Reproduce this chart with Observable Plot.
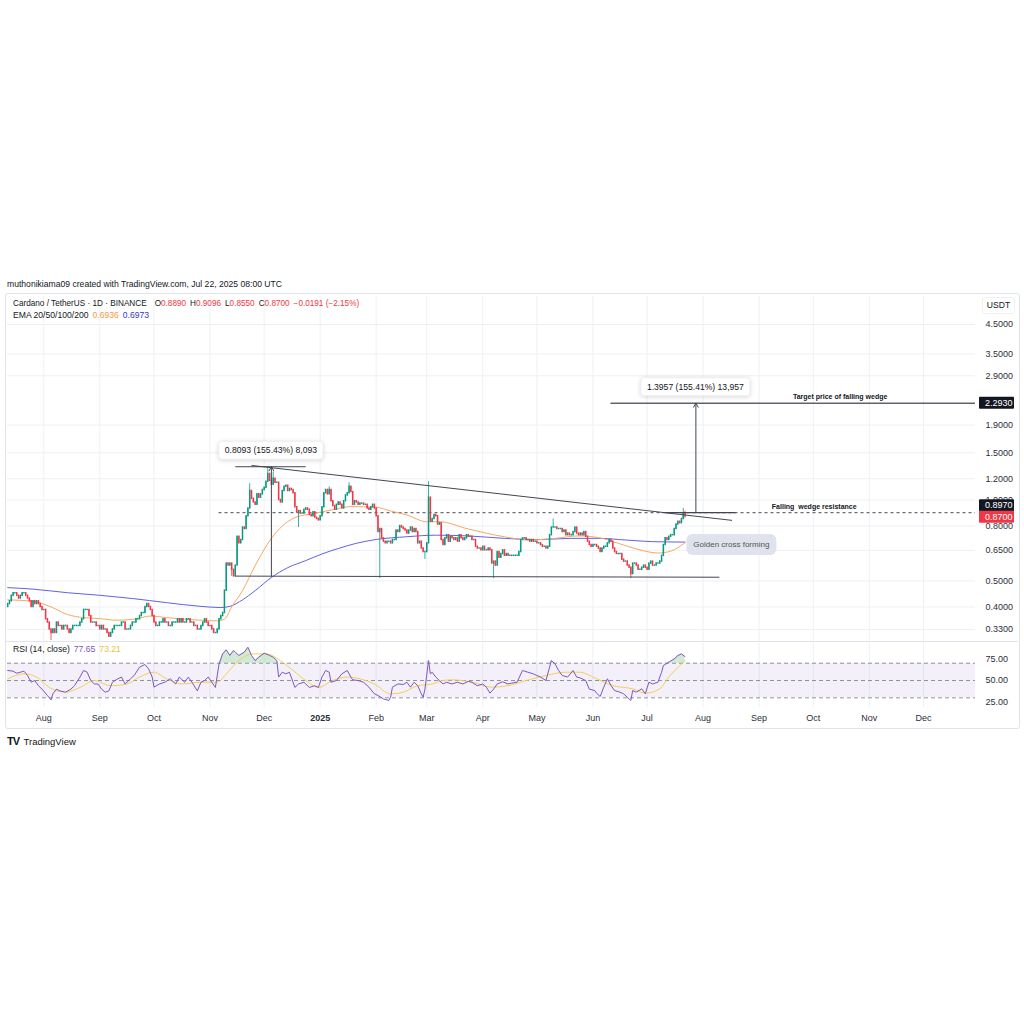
<!DOCTYPE html>
<html>
<head>
<meta charset="utf-8">
<script src="https://cdn.jsdelivr.net/npm/d3@7"></script>
<script src="https://cdn.jsdelivr.net/npm/@observablehq/plot@0.6"></script>
<style>
  html,body{margin:0;padding:0;background:#fff;}
  #root{position:relative;width:1024px;height:1024px;overflow:hidden;font-family:"Liberation Sans",Arial,sans-serif;color:#131722;}
  .abs{position:absolute;white-space:nowrap;}
  .pane{position:absolute;left:0;}
  .pane svg{overflow:visible;display:block;}
  .g{margin-left:4px;}
</style>
</head>
<body>
<div id="root"></div>
<script>
// ---------------- DATA ----------------
const creditText = "muthonikiama09 created with TradingView.com, Jul 22, 2025 08:00 UTC";
const symbolText = "Cardano / TetherUS · 1D · BINANCE";
const ohlcLabels = ["O", "H", "L", "C"];
const ohlcValues = ["0.8890", "0.9096", "0.8550", "0.8700"];
const changeText = "−0.0191 (−2.15%)";
const emaLabel = "EMA 20/50/100/200";
const emaValues = ["0.6936", "0.6973"];
const rsiLabel = "RSI (14, close)";
const rsiValues = ["77.65", "73.21"];
const currencyLabel = "USDT";

const firstDate = "2024-07-12";
const firstOpen = 0.40;
const closesJul2024 = [0.41,0.42,0.44,0.45,0.45,0.44,0.43,0.44,0.45,0.45,0.44,0.43,0.42,0.40,0.42,0.41,0.42,0.41,0.40,0.39];
const closesAug2024 = [0.39,0.36,0.35,0.33,0.32,0.33,0.32,0.35,0.34,0.34,0.33,0.34,0.34,0.33,0.32,0.33,0.34,0.34,0.34,0.34,0.35,0.36,0.39,0.39,0.39,0.37,0.35,0.35,0.35,0.34,0.34];
const closesSep2024 = [0.33,0.34,0.33,0.33,0.32,0.31,0.32,0.33,0.34,0.34,0.34,0.34,0.35,0.35,0.33,0.33,0.33,0.34,0.35,0.35,0.36,0.36,0.37,0.38,0.38,0.40,0.41,0.40,0.39,0.37];
const closesOct2024 = [0.35,0.34,0.34,0.35,0.35,0.36,0.35,0.35,0.34,0.34,0.35,0.35,0.35,0.36,0.35,0.36,0.35,0.35,0.36,0.36,0.35,0.35,0.34,0.34,0.33,0.33,0.34,0.35,0.36,0.35,0.34];
const closesNov2024 = [0.34,0.33,0.32,0.32,0.33,0.36,0.37,0.38,0.46,0.58,0.57,0.58,0.55,0.52,0.57,0.73,0.69,0.71,0.79,0.78,0.87,0.93,1.08,1.01,0.98,0.96,1.05,1.02,1.05,1.09];
const closesDec2024 = [1.11,1.17,1.25,1.18,1.14,1.20,1.16,1.16,1.00,0.98,1.08,1.12,1.13,1.08,1.10,1.09,1.06,0.94,0.90,0.91,0.89,0.89,0.92,0.93,0.92,0.88,0.87,0.90,0.86,0.85,0.84];
const closesJan2025 = [0.87,0.94,1.06,1.09,1.05,1.09,0.99,0.95,0.92,0.96,0.98,0.96,0.93,0.99,1.04,1.06,1.12,1.07,0.96,0.99,0.98,0.96,0.97,0.97,0.96,0.96,0.93,0.92,0.94,0.96,0.93];
const closesFeb2025 = [0.87,0.76,0.78,0.72,0.70,0.69,0.70,0.70,0.69,0.71,0.71,0.77,0.76,0.80,0.79,0.78,0.77,0.75,0.77,0.79,0.76,0.78,0.76,0.69,0.70,0.66,0.64,0.64];
const closesMar2025 = [0.69,1.02,0.83,0.85,0.88,0.87,0.81,0.82,0.71,0.68,0.72,0.74,0.70,0.73,0.72,0.71,0.72,0.70,0.74,0.72,0.71,0.72,0.74,0.73,0.73,0.71,0.71,0.67,0.66,0.66,0.65];
const closesApr2025 = [0.67,0.65,0.65,0.66,0.65,0.58,0.59,0.57,0.64,0.61,0.63,0.65,0.62,0.63,0.62,0.62,0.62,0.62,0.62,0.62,0.64,0.71,0.72,0.72,0.71,0.71,0.70,0.71,0.70,0.70];
const closesMay2025 = [0.69,0.69,0.68,0.67,0.67,0.66,0.67,0.74,0.79,0.79,0.79,0.78,0.78,0.78,0.76,0.77,0.74,0.75,0.74,0.74,0.76,0.79,0.75,0.74,0.75,0.74,0.76,0.73,0.70,0.68,0.67];
const closesJun2025 = [0.68,0.68,0.67,0.66,0.64,0.66,0.67,0.67,0.69,0.71,0.70,0.66,0.64,0.63,0.63,0.63,0.60,0.59,0.59,0.57,0.56,0.53,0.58,0.58,0.57,0.55,0.55,0.56,0.57,0.56];
const closesJul2025 = [0.55,0.58,0.59,0.57,0.57,0.58,0.58,0.59,0.62,0.68,0.72,0.71,0.73,0.74,0.74,0.78,0.81,0.83,0.82,0.85,0.889,0.87];

const wickHighs = [["2024-11-23",1.15],["2024-12-03",1.33],["2024-12-06",1.27],["2025-01-06",1.12],["2025-01-17",1.16],["2025-03-02",1.17],["2025-05-10",0.85],["2025-07-21",0.93],["2025-07-22",0.9096]];
const wickLows = [["2024-08-05",0.30],["2024-11-13",0.52],["2024-12-20",0.79],["2025-02-03",0.51],["2025-02-28",0.60],["2025-04-07",0.51],["2025-06-22",0.51],["2025-07-22",0.855]];

const emaOrange = [["2024-07-12",0.425],["2024-07-26",0.42],["2024-08-05",0.40],["2024-08-14",0.375],["2024-08-23",0.365],["2024-09-01",0.362],["2024-09-10",0.357],["2024-09-20",0.36],["2024-09-29",0.37],["2024-10-08",0.365],["2024-10-18",0.36],["2024-10-27",0.357],["2024-11-05",0.355],["2024-11-09",0.36],["2024-11-13",0.40],["2024-11-19",0.46],["2024-11-26",0.57],["2024-12-05",0.72],["2024-12-11",0.80],["2024-12-18",0.86],["2024-12-28",0.89],["2025-01-08",0.92],["2025-01-18",0.945],["2025-02-01",0.94],["2025-02-09",0.91],["2025-02-18",0.88],["2025-03-01",0.83],["2025-03-08",0.83],["2025-03-24",0.78],["2025-04-13",0.73],["2025-04-27",0.71],["2025-05-11",0.72],["2025-05-24",0.735],["2025-06-04",0.725],["2025-06-15",0.69],["2025-06-26",0.655],["2025-07-07",0.635],["2025-07-14",0.645],["2025-07-22",0.6936]];
const emaBlue = [["2024-07-12",0.472],["2024-07-26",0.466],["2024-08-14",0.452],["2024-09-01",0.442],["2024-09-19",0.43],["2024-10-08",0.415],["2024-10-27",0.402],["2024-11-07",0.398],["2024-11-12",0.402],["2024-11-19",0.425],["2024-11-26",0.46],["2024-12-05",0.515],["2024-12-14",0.56],["2024-12-24",0.595],["2025-01-02",0.63],["2025-01-11",0.66],["2025-01-21",0.69],["2025-02-01",0.713],["2025-02-18",0.73],["2025-03-06",0.74],["2025-03-24",0.735],["2025-04-13",0.72],["2025-05-01",0.712],["2025-05-20",0.72],["2025-06-04",0.72],["2025-06-19",0.71],["2025-07-04",0.70],["2025-07-22",0.6973]];

const rsiSeries = [["2024-07-12",61.6],["2024-07-15",60.8],["2024-07-17",58.5],["2024-07-19",59.6],["2024-07-21",60.8],["2024-07-23",55.8],["2024-07-25",48],["2024-07-27",50],["2024-07-29",44],["2024-07-31",40],["2024-08-03",32.7],["2024-08-05",27.6],["2024-08-06",34.6],["2024-08-08",40],["2024-08-10",38],["2024-08-13",36.5],["2024-08-16",40],["2024-08-18",44],["2024-08-21",53.9],["2024-08-23",61.6],["2024-08-25",59.6],["2024-08-27",50],["2024-08-29",46],["2024-08-31",46],["2024-09-02",40],["2024-09-04",36.5],["2024-09-06",38],["2024-09-08",48],["2024-09-11",52],["2024-09-13",54],["2024-09-15",46],["2024-09-18",52],["2024-09-20",55.8],["2024-09-23",65.4],["2024-09-26",68.5],["2024-09-28",63.5],["2024-09-30",54],["2024-10-01",42.3],["2024-10-04",46],["2024-10-07",48],["2024-10-10",52],["2024-10-13",46],["2024-10-15",54],["2024-10-18",48],["2024-10-20",54],["2024-10-22",48],["2024-10-25",38],["2024-10-27",48],["2024-10-29",50],["2024-10-31",54],["2024-11-02",48],["2024-11-04",42],["2024-11-06",69],["2024-11-08",80.8],["2024-11-10",85.5],["2024-11-12",79],["2024-11-14",84.7],["2024-11-15",82.8],["2024-11-17",79],["2024-11-20",82.8],["2024-11-22",88.5],["2024-11-24",79],["2024-11-26",73],["2024-11-28",77],["2024-12-01",81.6],["2024-12-04",79],["2024-12-06",77],["2024-12-08",73],["2024-12-09",54],["2024-12-11",59.6],["2024-12-13",57.7],["2024-12-15",59.6],["2024-12-18",42],["2024-12-20",46],["2024-12-23",48],["2024-12-26",42],["2024-12-29",44],["2024-12-31",42],["2025-01-02",54],["2025-01-04",61.6],["2025-01-06",59.6],["2025-01-07",48],["2025-01-10",50],["2025-01-13",57.7],["2025-01-16",61.6],["2025-01-18",54],["2025-01-19",50.8],["2025-01-22",50],["2025-01-25",48],["2025-01-28",42.3],["2025-01-31",34.6],["2025-02-02",32.7],["2025-02-05",28.8],["2025-02-08",26.9],["2025-02-09",30.7],["2025-02-10",42.3],["2025-02-13",46],["2025-02-16",45.4],["2025-02-18",48],["2025-02-20",42.3],["2025-02-22",48],["2025-02-24",44],["2025-02-26",34.6],["2025-02-27",30.7],["2025-02-28",40],["2025-03-02",73],["2025-03-03",57.7],["2025-03-04",59.6],["2025-03-06",54],["2025-03-08",50],["2025-03-10",46],["2025-03-12",48],["2025-03-15",46],["2025-03-18",48],["2025-03-21",46],["2025-03-24",49],["2025-03-26",48],["2025-03-29",44],["2025-04-01",46],["2025-04-03",42.3],["2025-04-05",35.4],["2025-04-07",40],["2025-04-09",46],["2025-04-12",48.5],["2025-04-15",46],["2025-04-17",47],["2025-04-20",48],["2025-04-23",61.6],["2025-04-26",59.6],["2025-04-29",57.7],["2025-05-01",55.8],["2025-05-03",54],["2025-05-06",50],["2025-05-08",65.4],["2025-05-09",73],["2025-05-11",69.3],["2025-05-13",61.6],["2025-05-15",55.8],["2025-05-18",54],["2025-05-21",61.6],["2025-05-23",54],["2025-05-25",53],["2025-05-28",50],["2025-05-30",40],["2025-06-02",38.4],["2025-06-03",35.4],["2025-06-05",31.5],["2025-06-07",42.3],["2025-06-09",52],["2025-06-11",44.2],["2025-06-13",38.4],["2025-06-16",36.5],["2025-06-18",34.6],["2025-06-20",30.7],["2025-06-22",26.9],["2025-06-23",38.4],["2025-06-25",36.5],["2025-06-28",40.4],["2025-06-30",34.6],["2025-07-02",48],["2025-07-04",46],["2025-07-07",48],["2025-07-09",59.6],["2025-07-10",67.3],["2025-07-13",71.2],["2025-07-16",75],["2025-07-18",78.9],["2025-07-20",80.8],["2025-07-22",77.65]];
const rsiMaSeries = [["2024-07-12",52],["2024-07-21",57.7],["2024-07-28",54],["2024-08-04",42],["2024-08-13",36.5],["2024-08-21",42],["2024-08-29",50],["2024-09-07",44],["2024-09-16",46],["2024-09-23",54],["2024-10-01",59.6],["2024-10-08",52],["2024-10-16",46],["2024-10-27",48],["2024-11-05",48],["2024-11-10",57.7],["2024-11-17",73],["2024-11-25",80.8],["2024-12-02",80.8],["2024-12-10",73],["2024-12-17",61.6],["2024-12-24",50],["2024-12-31",42],["2025-01-08",50],["2025-01-16",54],["2025-01-23",52],["2025-01-31",46],["2025-02-09",34.6],["2025-02-16",36.5],["2025-02-24",44],["2025-03-04",46],["2025-03-10",50],["2025-03-15",50.8],["2025-03-26",48],["2025-04-06",42.3],["2025-04-15",44],["2025-04-25",50],["2025-05-06",55.8],["2025-05-17",59.6],["2025-05-25",59.6],["2025-06-01",54],["2025-06-12",44],["2025-06-23",40.4],["2025-06-30",35.4],["2025-07-08",40.4],["2025-07-13",54],["2025-07-21",71.2],["2025-07-22",73.21]];

const priceTicks = [4.5, 3.5, 2.9, 1.9, 1.5, 1.2, 1.0, 0.8, 0.65, 0.5, 0.4, 0.33];
const rsiTicks = [75, 50, 25];
const rsiBands = [70, 50, 30];
const monthNames = ["2025","Feb","Mar","Apr","May","Jun","Jul","Aug","Sep","Oct","Nov","Dec"];

// drawings (annotation anchors: date, price)
const wedgeResistance = [{x1:"2024-11-24", y1:1.345, x2:"2025-08-17", y2:0.84}];
const wedgeSupport = [{x1:"2024-11-15", y1:0.521, x2:"2025-08-10", y2:0.516}];
const measureTop = [{x1:"2024-11-15", y1:1.33, x2:"2024-12-24", y2:1.33}];
const measureArrow1 = [{x:"2024-12-05", from:0.5207, to:1.33}];
const measureBase2 = [{x1:"2025-07-11", y1:0.897, x2:"2025-08-19", y2:0.897}];
const measureArrow2 = [{x:"2025-07-28", from:0.897, to:2.293}];
const resistanceLevel = [{x1:"2024-11-06", y:0.897}];
const targetLevel = [{x1:"2025-06-11", y:2.293}];
const noteTexts = [
  {x:"2025-11-11", y:2.293, text:"Target price of falling wedge"},
  {x:"2025-10-25", y:0.897, text:"Falling  wedge resistance"}
];
const measureLabels = [
  {x:"2024-12-05", y:1.33, text:"0.8093 (155.43%) 8,093"},
  {x:"2025-07-28", y:2.293, text:"1.3957 (155.41%) 13,957"}
];
const calloutLabels = [{x:"2025-07-23", y:0.680, text:"Golden cross forming"}];
const axisPriceLabels = [
  {y:2.293, text:"2.2930", kind:"black"},
  {y:0.897, text:"0.8970", kind:"black"},
  {y:0.870, text:"0.8700", kind:"red"}
];

// ---------------- BUILD ----------------
const FONT = '"Liberation Sans", Arial, sans-serif';
const UP = "#089981", DOWN = "#f23645";
const DAY = 864e5;
const parse = s => new Date(s + "T00:00:00Z");
const aug1 = Date.UTC(2024, 7, 1);
const xDomain = [new Date(aug1 - 20.1 * DAY), new Date(aug1 + 515.8 * DAY)];

const closes = [closesJul2024, closesAug2024, closesSep2024, closesOct2024, closesNov2024, closesDec2024,
  closesJan2025, closesFeb2025, closesMar2025, closesApr2025, closesMay2025, closesJun2025, closesJul2025].flat();
const hiMap = new Map(wickHighs), loMap = new Map(wickLows);
const start = parse(firstDate).getTime();
const candles = closes.map((c, i) => {
  const date = new Date(start + i * DAY);
  const key = date.toISOString().slice(0, 10);
  const open = i === 0 ? firstOpen : closes[i - 1];
  const high = Math.max(open, c, hiMap.get(key) ?? 0);
  const low = Math.min(open, c, loMap.get(key) ?? Infinity);
  return {date, open, close: c, high, low};
});
const upCandles = candles.filter(d => d.close >= d.open);
const downCandles = candles.filter(d => d.close < d.open);
const toPts = arr => arr.map(([d, v]) => ({date: parse(d), value: v}));
const orangePts = toPts(emaOrange), bluePts = toPts(emaBlue);
const rsiPts = toPts(rsiSeries), rsiMaPts = toPts(rsiMaSeries);
const monthTicks = d3.utcMonth.range(new Date(Date.UTC(2024, 7, 1)), new Date(Date.UTC(2026, 0, 1)));
const fmtMonth = d => monthNames[d.getUTCMonth()];
const P = d => parse(d);

const measureCtx = document.createElement("canvas").getContext("2d");
function textWidth(t, size, weight = "normal") {
  measureCtx.font = `${weight} ${size}px ${FONT}`;
  return measureCtx.measureText(t).width;
}

// custom render mark for labelled boxes
function boxMark(items, o) {
  return (index, scales, values, dims) => {
    const g = d3.create("svg:g");
    for (const it of items) {
      const tw = textWidth(it.text, o.fontSize);
      const w = o.fixedWidth ?? (tw + 2 * o.padX);
      const h = o.height;
      const py = scales.y(it.y) + (o.dyFor ? o.dyFor(it) : (o.dy || 0));
      let left;
      if (o.onAxis) left = dims.width - dims.marginRight + o.axisOffset;
      else {
        const px = scales.x(P(it.x));
        left = o.anchor === "left" ? px : px - w / 2;
      }
      const top = o.anchor === "bottom" ? py - h : py - h / 2;
      g.append("rect").attr("x", left).attr("y", top).attr("width", w).attr("height", h)
        .attr("rx", o.rx || 0).attr("fill", o.fillFor ? o.fillFor(it) : o.fill)
        .attr("stroke", o.stroke || "none").attr("stroke-width", 1)
        .style("filter", o.shadow || null);
      g.append("text")
        .attr("x", o.onAxis ? left + o.padX : left + w / 2)
        .attr("y", top + h / 2).attr("dy", "0.35em")
        .attr("text-anchor", o.onAxis ? "start" : "middle")
        .attr("font-size", o.fontSize).attr("font-family", FONT)
        .attr("fill", o.textFill).text(it.text);
    }
    return g.node();
  };
}

const root = document.getElementById("root");
function addDiv(html, style) {
  const d = document.createElement("div");
  d.className = "abs";
  d.innerHTML = html;
  Object.assign(d.style, style);
  root.appendChild(d);
  return d;
}

// panel frame
addDiv("", {left: "5px", top: "293px", width: "1013px", height: "434px", border: "1px solid #e0e3eb", borderRadius: "3px"});

// price pane
const priceChart = Plot.plot({
  width: 1024, height: 345,
  marginLeft: 7, marginRight: 49, marginTop: 0, marginBottom: 0,
  style: {fontFamily: FONT, fontSize: "9px", color: "#131722", background: "transparent", overflow: "visible"},
  x: {type: "utc", domain: xDomain, axis: null},
  y: {type: "log", domain: [0.2975, 5.72], axis: null},
  marks: [
    Plot.gridX(monthTicks, {stroke: "#eef0f4", strokeOpacity: 1}),
    Plot.gridY(priceTicks, {stroke: "#eef0f4", strokeOpacity: 1}),
    Plot.axisY(priceTicks, {anchor: "right", tickSize: 0, tickPadding: 10, textAnchor: "start", tickFormat: d => d.toFixed(4), fill: "#2a2e39", label: null}),
    Plot.ruleY(resistanceLevel, {x1: d => P(d.x1), x2: () => xDomain[1], y: "y", stroke: "#6a6d78", strokeWidth: 1.2, strokeDasharray: "3,3"}),
    Plot.ruleY(targetLevel, {x1: d => P(d.x1), x2: () => xDomain[1], y: "y", stroke: "#131722", strokeWidth: 1}),
    Plot.line(bluePts, {x: "date", y: "value", stroke: "#6161e6", strokeWidth: 1, curve: "monotone-x"}),
    Plot.line(orangePts, {x: "date", y: "value", stroke: "#f7a863", strokeWidth: 1, curve: "monotone-x"}),
    Plot.ruleX(upCandles, {x: "date", y1: "low", y2: "high", stroke: UP, strokeWidth: 0.8}),
    Plot.ruleX(downCandles, {x: "date", y1: "low", y2: "high", stroke: DOWN, strokeWidth: 0.8}),
    Plot.ruleX(upCandles, {x: "date", y1: "open", y2: "close", stroke: UP, strokeWidth: 1.5, strokeLinecap: "square"}),
    Plot.ruleX(downCandles, {x: "date", y1: "open", y2: "close", stroke: DOWN, strokeWidth: 1.5, strokeLinecap: "square"}),
    Plot.link(wedgeResistance, {x1: d => P(d.x1), y1: "y1", x2: d => P(d.x2), y2: "y2", stroke: "#434651", strokeWidth: 1}),
    Plot.link(wedgeSupport, {x1: d => P(d.x1), y1: "y1", x2: d => P(d.x2), y2: "y2", stroke: "#434651", strokeWidth: 1}),
    Plot.link(measureTop, {x1: d => P(d.x1), y1: "y1", x2: d => P(d.x2), y2: "y2", stroke: "#434651", strokeWidth: 1}),
    Plot.link(measureBase2, {x1: d => P(d.x1), y1: "y1", x2: d => P(d.x2), y2: "y2", stroke: "#434651", strokeWidth: 1.3}),
    Plot.arrow(measureArrow1, {x: d => P(d.x), y1: "from", y2: "to", stroke: "#434651", strokeWidth: 1, headLength: 7}),
    Plot.arrow(measureArrow2, {x: d => P(d.x), y1: "from", y2: "to", stroke: "#434651", strokeWidth: 1, headLength: 7}),
    Plot.text(noteTexts, {x: d => P(d.x), y: "y", text: "text", textAnchor: "end", dy: -6, fontSize: 7, fill: "#131722", fontWeight: 600}),
    boxMark(measureLabels, {fontSize: 8.6, padX: 6, height: 18, anchor: "bottom", dy: -7, rx: 3, fill: "#ffffff", stroke: "#eceef2", shadow: "drop-shadow(0px 1px 2px rgba(0,0,0,0.15))", textFill: "#131722"}),
    boxMark(calloutLabels, {fontSize: 8, padX: 7, height: 21, anchor: "left", rx: 6, fill: "#e0e3eb", textFill: "#50535e"}),
    boxMark(axisPriceLabels, {fontSize: 9, padX: 6, height: 12, fixedWidth: 35, onAxis: true, axisOffset: 4, rx: 1,
      dyFor: it => it.y === 0.897 ? -7 : (it.y === 0.870 ? 1 : 0),
      fillFor: it => it.kind === "red" ? "#f23645" : "#131722", textFill: "#ffffff"})
  ]
});
const pricePane = document.createElement("div");
pricePane.className = "pane"; pricePane.style.top = "296px";
pricePane.appendChild(priceChart);
root.appendChild(pricePane);

// separator between panes
addDiv("", {left: "6px", top: "641px", width: "1012px", height: "1px", background: "#e0e3eb"});

// RSI pane
const rsiChart = Plot.plot({
  width: 1024, height: 87,
  marginLeft: 7, marginRight: 49, marginTop: 2, marginBottom: 21,
  style: {fontFamily: FONT, fontSize: "9px", color: "#131722", background: "transparent", overflow: "visible"},
  x: {type: "utc", domain: xDomain, axis: null},
  y: {domain: [18.8, 92.8], axis: null},
  marks: [
    Plot.gridX(monthTicks, {stroke: "#eef0f4", strokeOpacity: 1}),
    Plot.rect([0], {y1: 30, y2: 70, fill: "#7e57c2", fillOpacity: 0.09}),
    Plot.ruleY(rsiBands, {stroke: "#8f929b", strokeWidth: 1, strokeDasharray: "4,3"}),
    Plot.areaY(rsiPts, {x: "date", y1: 70, y2: d => Math.max(70, d.value), fill: "#7cc48a", fillOpacity: 0.35}),
    Plot.line(rsiMaPts, {x: "date", y: "value", stroke: "#f4cf55", strokeWidth: 1, curve: "monotone-x"}),
    Plot.line(rsiPts, {x: "date", y: "value", stroke: "#7e57c2", strokeWidth: 1}),
    Plot.axisY(rsiTicks, {anchor: "right", tickSize: 0, tickPadding: 10, textAnchor: "start", tickFormat: d => d.toFixed(2), fill: "#2a2e39", label: null}),
    Plot.axisX(monthTicks, {anchor: "bottom", tickSize: 0, tickPadding: 7, tickFormat: fmtMonth, fill: "#2a2e39", label: null})
  ]
});
d3.select(rsiChart).selectAll("text").filter(function () { return this.textContent === "2025"; }).attr("font-weight", "bold");
const rsiPane = document.createElement("div");
rsiPane.className = "pane"; rsiPane.style.top = "641px";
rsiPane.appendChild(rsiChart);
root.appendChild(rsiPane);

// texts
const txt = {fontSize: "8.6px", lineHeight: "11px", color: "#131722"};
addDiv(creditText, {...txt, left: "7px", top: "279px"});
const red = v => `<span style="color:#f23645">${v}</span>`;
addDiv(`${symbolText}<span class="g"></span>` + ohlcLabels.map((l, i) => `<span class="g">${l}${red(ohlcValues[i])}</span>`).join("") + `<span class="g">${red(changeText)}</span>`,
  {...txt, fontSize: "8.2px", left: "13px", top: "298px"});
addDiv(`${emaLabel}<span class="g" style="color:#f39a3a">${emaValues[0]}</span><span class="g" style="color:#3535c8">${emaValues[1]}</span>`,
  {...txt, left: "13px", top: "310px"});
addDiv(`${rsiLabel}<span class="g" style="color:#7e57c2">${rsiValues[0]}</span><span class="g" style="color:#e9c33f">${rsiValues[1]}</span>`,
  {...txt, left: "13px", top: "644px"});
addDiv(currencyLabel, {...txt, left: "982px", top: "297px", width: "31px", height: "15px", lineHeight: "15px", textAlign: "center", border: "1px solid #eef0f4", borderRadius: "3px"});
addDiv(`<span style="font-weight:900;font-size:11px;letter-spacing:-1px">TV</span>&nbsp;<span style="font-size:9.5px">TradingView</span>`,
  {left: "7px", top: "733px", color: "#131722", lineHeight: "14px"});
</script>
</body>
</html>
